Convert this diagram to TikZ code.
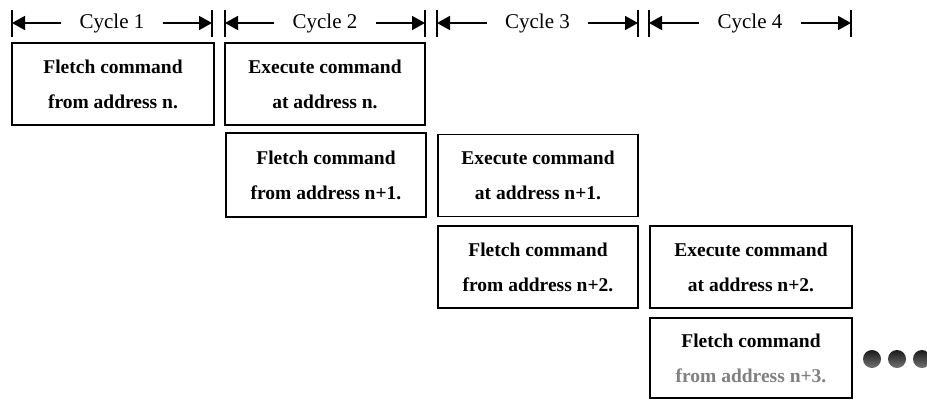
\documentclass[tikz,border=0pt]{standalone}
\usepackage{fontspec}
\setmainfont{Liberation Serif}
\usetikzlibrary{arrows.meta,calc}

\tikzset{
  cyclab/.style={inner sep=0pt, inner xsep=18pt, font=\fontsize{21}{24}\selectfont},
  dimarrow/.style={line width=1.6pt, -{Triangle[length=13pt,width=14pt]}},
  cyclebar/.style={line width=1.7pt},
  stagebox/.style={draw, line width=1.5pt, minimum width=200pt, minimum height=82pt,
    align=center, inner sep=0pt, font=\fontsize{19.5}{35}\selectfont\bfseries},
  dot/.style={draw=none, top color=black!90, bottom color=black!55}
}

\begin{document}
\begin{tikzpicture}[x=1pt,y=1pt]
  \useasboundingbox (0,0) rectangle (927,-400);

  % cycle boundaries
  \coordinate (c1l) at (12,-23);  \coordinate (c1r) at (212,-23);
  \coordinate (c2l) at (225,-23); \coordinate (c2r) at (425,-23);
  \coordinate (c3l) at (437,-23); \coordinate (c3r) at (638,-23);
  \coordinate (c4l) at (649,-23); \coordinate (c4r) at (851,-23);

  \foreach \i in {1,2,3,4} {
    \node[cyclab] (cyc\i) at ($(c\i l)!0.5!(c\i r)$) {Cycle \i};
    \draw[dimarrow] (cyc\i.west) -- (c\i l);
    \draw[dimarrow] (cyc\i.east) -- (c\i r);
    \draw[cyclebar] ($(c\i l)+(0,13)$) -- ($(c\i l)+(0,-14)$);
    \draw[cyclebar] ($(c\i r)+(0,13)$) -- ($(c\i r)+(0,-14)$);
  }

  % pipeline stages
  \node[stagebox, minimum width=202pt] (f1) at (113,-84)   {Fletch command\\from address n.};
  \node[stagebox] (e1) at (325,-84)   {Execute command\\at address n.};
  \node[stagebox, minimum height=84pt] (f2) at (326,-175)  {Fletch command\\from address n+1.};
  \node[stagebox] (e2) at (538,-175.5) {Execute command\\at address n+1.};
  \node[stagebox] (f3) at (538,-267)  {Fletch command\\from address n+2.};
  \node[stagebox, minimum width=202pt] (e3) at (751,-267)  {Execute command\\at address n+2.};
  \node[stagebox, minimum width=202pt, minimum height=80pt] (f4) at (751,-358)
       {Fletch command\\\textcolor{black!50}{from address n+3.}};

  % continuation dots
  \shade[dot] (872,-359) circle (9pt);
  \shade[dot] (897,-359) circle (9pt);
  \shade[dot] (922,-359) circle (9pt);
\end{tikzpicture}
\end{document}
